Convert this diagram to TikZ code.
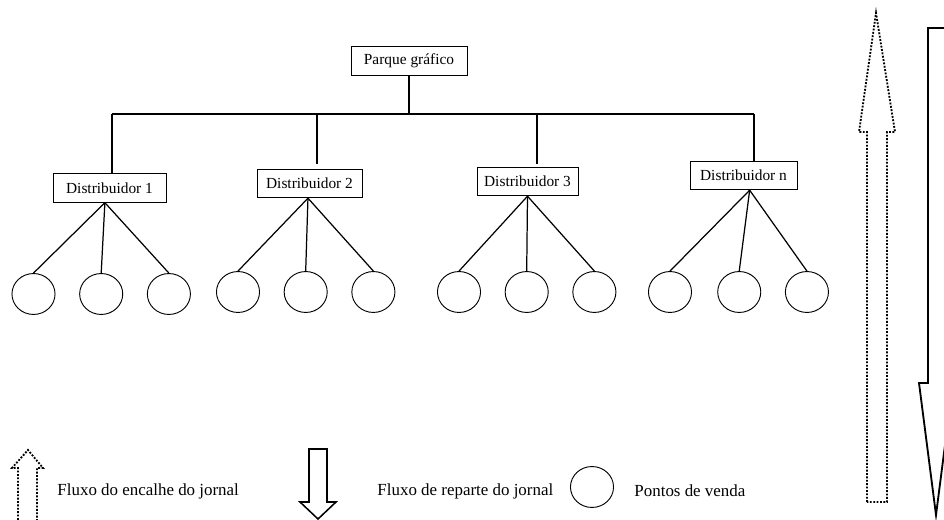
\documentclass[tikz,border=0pt]{standalone}
\usepackage{fontspec}
\setmainfont{Liberation Serif}
\usetikzlibrary{shapes,positioning}

\begin{document}
\begin{tikzpicture}[x=0.65pt, y=-0.65pt, node distance=44pt, semithick]
  \tikzstyle{block} = [rectangle, draw, text centered, minimum height=18.5pt,
    inner sep=0pt]
  \tikzstyle{pv} = [ellipse, draw, minimum width=28pt, minimum height=26.6pt,
    inner sep=0pt]
  \tikzstyle{line} = [draw, thick]
  \tikzstyle{legend} = [anchor=west, font=\fontsize{11}{13}\selectfont, inner sep=0pt]
  \tikzstyle{dotarrow} = [draw, densely dotted, line width=1.2pt]
  \tikzstyle{solidarrow} = [draw, line width=1pt, line join=miter]

  \useasboundingbox (0,0) rectangle (944,520);
  \clip (0,0) rectangle (944,520);

  % Place nodes
  \node [block, minimum width=75.4pt] (parque) at (409,61) {Parque gráfico};

  \node [block, minimum width=73.5pt] (dist1) at (109.5,188) {Distribuidor 1};
  \node [block, minimum width=68.3pt] (dist2) at (309.5,183.5) {Distribuidor 2};
  \node [block, minimum width=65.7pt] (dist3) at (527.5,181.5) {Distribuidor 3};
  \node [block, minimum width=69.6pt] (distn) at (743.5,175.5) {Distribuidor n};

  \node [pv] (pv11) at (33.5,294) {};
  \node [pv, right of=pv11] (pv12) {};
  \node [pv, right of=pv12] (pv13) {};

  \node [pv] (pv21) at (238,292) {};
  \node [pv, right of=pv21] (pv22) {};
  \node [pv, right of=pv22] (pv23) {};

  \node [pv] (pv31) at (459,292) {};
  \node [pv, right of=pv31] (pv32) {};
  \node [pv, right of=pv32] (pv33) {};

  \node [pv] (pvn1) at (670,292) {};
  \node [pv, right of=pvn1, node distance=45pt] (pvn2) {};
  \node [pv, right of=pvn2] (pvn3) {};

  \coordinate (b1) at (112,114);
  \coordinate (b2) at (317,114);
  \coordinate (b3) at (537,114);
  \coordinate (bn) at (754,114);

  % legend
  \node [legend] (leg1) at (57,491) {Fluxo do encalhe do jornal};
  \node [legend] (leg2) at (377,491) {Fluxo de reparte do jornal};
  \node [pv] (legpv) at (592,487) {};
  \node [legend] (leg3) at (634,491) {Pontos de venda};

  % Draw edges
  \path [line] (parque) -- (parque |- b1);
  \path [line] (b1) -- (bn);

  \path [line] (b1) -- (b1 |- dist1.north);
  \path [line, shorten >=3pt] (b2) -- (b2 |- dist2.north);
  \path [line, shorten >=2pt] (b3) -- (b3 |- dist3.north);
  \path [line] (bn) -- (bn |- distn.north);

  \path [line] ([xshift=-3pt]dist1.south) -- (pv11.north);
  \path [line] ([xshift=-3pt]dist1.south) -- (pv12.north);
  \path [line] ([xshift=-3pt]dist1.south) -- (pv13.north);

  \path [line] ([xshift=-1pt]dist2.south) -- (pv21.north);
  \path [line] ([xshift=-1pt]dist2.south) -- (pv22.north);
  \path [line] ([xshift=-1pt]dist2.south) -- (pv23.north);

  \path [line] (dist3.south) -- (pv31.north);
  \path [line] (dist3.south) -- (pv32.north);
  \path [line] (dist3.south) -- (pv33.north);

  \path [line] ([xshift=4pt]distn.south) -- (pvn1.north);
  \path [line] ([xshift=4pt]distn.south) -- (pvn2.north);
  \path [line] ([xshift=4pt]distn.south) -- (pvn3.north);

  % Block arrows
  \path [dotarrow] (18,530) -- (18,468) -- (12,468) -- (28,450)
    -- (43,468) -- (37,468) -- (37,530);
  \path [solidarrow] (309,449) -- (327,449) -- (327,502) -- (336,502)
    -- (318,519) -- (300,502) -- (309,502) -- cycle;

  \path [dotarrow] (867,502) -- (867,132) -- (859,132) -- (876,13)
    -- (895,132) -- (887,132) -- (887,502) -- cycle;
  \path [solidarrow, line width=1.2pt] (946,28) -- (928,28) -- (928,383)
    -- (919,383) -- (936,515) -- (953,383);

\end{tikzpicture}
\end{document}
